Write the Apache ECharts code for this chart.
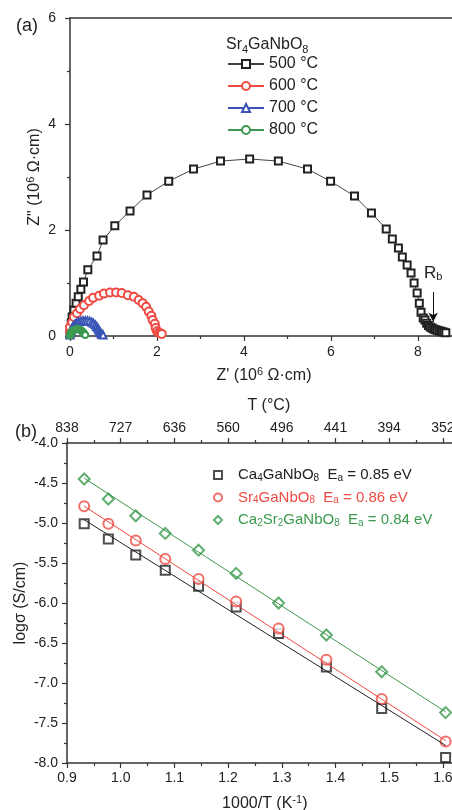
<!DOCTYPE html>
<html><head><meta charset="utf-8">
<script src="https://cdn.jsdelivr.net/npm/echarts@6/dist/echarts.min.js"></script>
<style>html,body{margin:0;padding:0;background:#fff}#c{width:452px;height:810px}</style>
</head><body><div id="c"></div>
<script>
// ---------- Panel (a): Nyquist plots of Sr4GaNbO8 ----------
const impedanceTemps = ['500 °C', '600 °C', '700 °C', '800 °C'];
const z500 = [[0.0,0.04],[0.01,0.13],[0.03,0.25],[0.05,0.36],[0.09,0.49],[0.14,0.62],[0.19,0.74],[0.25,0.88],[0.31,1.02],[0.41,1.25],[0.62,1.51],[0.76,1.81],[1.03,2.08],[1.38,2.36],[1.77,2.66],[2.27,2.92],[2.84,3.15],[3.46,3.30],[4.13,3.34],[4.79,3.30],[5.46,3.15],[5.99,2.92],[6.54,2.64],[6.93,2.32],[7.27,2.02],[7.41,1.83],[7.55,1.66],[7.64,1.49],[7.75,1.34],[7.84,1.19],[7.91,1.00],[7.98,0.81],[8.03,0.62],[8.07,0.45],[8.12,0.34],[8.16,0.30],[8.20,0.24],[8.24,0.20],[8.28,0.17],[8.32,0.15],[8.36,0.13],[8.40,0.12],[8.44,0.11],[8.48,0.10],[8.52,0.09],[8.56,0.08],[8.60,0.07],[8.64,0.06]];
const z600 = [[0.0,0.08],[0.0,0.17],[0.05,0.26],[0.09,0.36],[0.16,0.43],[0.23,0.51],[0.32,0.58],[0.44,0.66],[0.53,0.72],[0.67,0.76],[0.78,0.80],[0.92,0.82],[1.06,0.82],[1.19,0.81],[1.33,0.77],[1.47,0.74],[1.58,0.68],[1.67,0.62],[1.75,0.55],[1.81,0.46],[1.87,0.38],[1.90,0.30],[1.95,0.23],[1.97,0.15],[2.00,0.09],[2.04,0.06],[2.08,0.05],[2.11,0.04]];
const z700 = [[0.0,0.02],[0.01,0.06],[0.02,0.10],[0.04,0.14],[0.06,0.17],[0.09,0.20],[0.12,0.23],[0.16,0.25],[0.20,0.27],[0.25,0.28],[0.30,0.29],[0.35,0.29],[0.40,0.29],[0.45,0.28],[0.50,0.26],[0.54,0.24],[0.58,0.21],[0.61,0.18],[0.64,0.15],[0.66,0.12],[0.68,0.09],[0.70,0.06],[0.72,0.04],[0.74,0.03],[0.76,0.02]];
const z800 = [[0.0,0.01],[0.01,0.04],[0.03,0.07],[0.05,0.09],[0.08,0.11],[0.11,0.12],[0.15,0.13],[0.19,0.13],[0.23,0.12],[0.26,0.10],[0.29,0.08],[0.31,0.06],[0.33,0.04],[0.35,0.02]];
const rbArrow = [[8.35, 0.83], [8.35, 0.27]];

// ---------- Panel (b): Arrhenius plots ----------
const compounds = ['Ca4GaNbO8', 'Sr4GaNbO8', 'Ca2Sr2GaNbO8'];
const activationEnergies = ['0.85', '0.86', '0.84'];
const invT = [0.932, 0.977, 1.028, 1.083, 1.145, 1.215, 1.294, 1.383, 1.486, 1.605];
const sigmaCa4 = [-5.01, -5.20, -5.40, -5.59, -5.79, -6.05, -6.38, -6.80, -7.32, -7.93];
const sigmaSr4 = [-4.79, -5.01, -5.22, -5.45, -5.70, -5.98, -6.32, -6.71, -7.20, -7.73];
const sigmaCa2Sr2 = [-4.45, -4.70, -4.91, -5.13, -5.34, -5.63, -6.00, -6.40, -6.86, -7.37];
const fitCa4 = [[0.932, -4.96], [1.605, -7.78]];
const fitSr4 = [[0.932, -4.79], [1.605, -7.72]];
const fitCa2Sr2 = [[0.932, -4.44], [1.605, -7.36]];
const tTickLabels = ['838', '727', '636', '560', '496', '441', '394', '352'];

const FF = '"Liberation Sans", Arial, sans-serif';
const INK = '#222';
const AX = '#333';
const C_BLACK = '#222', C_RED = '#ee4b43', C_BLUE = '#3a55b6', C_GREEN = '#3b9a4e';
const subStyle = {fontSize: 11, lineHeight: 10, verticalAlign: 'bottom', fontFamily: FF};
const supStyle = {fontSize: 11, lineHeight: 10, verticalAlign: 'top', fontFamily: FF};

function baseAxis(extra) {
  return Object.assign({
    type: 'value',
    nameMoveOverlap: false,
    axisLine: {show: true, lineStyle: {color: AX, width: 1.5}},
    axisTick: {show: true, length: 5, lineStyle: {color: AX, width: 1.2}},
    minorTick: {show: true, splitNumber: 2, length: 3, lineStyle: {color: AX, width: 1.2}},
    splitLine: {show: false},
    axisLabel: {fontSize: 14, color: INK, fontFamily: FF},
    nameTextStyle: {fontSize: 16, color: INK, fontFamily: FF, lineHeight: 20, rich: {sup: supStyle, sub: subStyle}}
  }, extra);
}

const chart = echarts.init(document.getElementById('c'), null, {renderer: 'canvas'});
chart.setOption({
  animation: false,
  backgroundColor: '#fff',
  title: [
    {text: '(a)', left: 11, top: 12, textStyle: {fontSize: 18, fontWeight: 'normal', color: INK, fontFamily: FF}},
    {text: '(b)', left: 10, top: 418, textStyle: {fontSize: 18, fontWeight: 'normal', color: INK, fontFamily: FF}},
    {text: 'Sr{sub|4}GaNbO{sub|8}', left: 221, top: 30,
     textStyle: {fontSize: 16, lineHeight: 20, fontWeight: 'normal', color: INK, fontFamily: FF, rich: {sub: subStyle}}}
  ],
  legend: [
    {data: impedanceTemps, orient: 'vertical', left: 222, top: 51, itemWidth: 36, itemHeight: 10, itemGap: 6,
     textStyle: {fontSize: 16, lineHeight: 16, color: INK, fontFamily: FF}},
    {data: [
       {name: compounds[0], textStyle: {color: C_BLACK}},
       {name: compounds[1], textStyle: {color: C_RED}},
       {name: compounds[2], textStyle: {color: C_GREEN}}],
     orient: 'vertical', left: 208, top: 462, itemWidth: 8, itemHeight: 8, itemGap: 6.5,
     formatter: function (name) {
       const i = compounds.indexOf(name);
       const f = name.replace(/(\d)/g, '{sub|$1}');
       return f + '  E{sub|a} = ' + activationEnergies[i] + ' eV';
     },
     textStyle: {fontSize: 15, lineHeight: 16, padding: [0, 0, 0, 11], fontFamily: FF,
       rich: {sub: {fontSize: 10, lineHeight: 9, verticalAlign: 'bottom', fontFamily: FF}}}}
  ],
  grid: [
    {left: 70, top: 18, right: 452 - 70 - 435, bottom: 810 - 336, outerBoundsMode: 'none', containLabel: false},
    {left: 67, top: 443, right: 452 - 67 - 429.6, bottom: 810 - 763, outerBoundsMode: 'none', containLabel: false}
  ],
  xAxis: [
    baseAxis({gridIndex: 0, position: 'bottom', min: 0, max: 10, interval: 2,
      name: "Z' (10{sup|6} Ω·cm)", nameLocation: 'middle', nameGap: 30,
      axisLabel: {fontSize: 14, color: INK, fontFamily: FF, margin: 9},
      nameTextStyle: {fontSize: 16, color: INK, fontFamily: FF, lineHeight: 20, padding: [0, 47, 0, 0], rich: {sup: supStyle}}}),
    baseAxis({gridIndex: 0, position: 'top', min: 0, max: 10, interval: 2,
      axisTick: {show: false}, minorTick: {show: false}, axisLabel: {show: false}}),
    baseAxis({gridIndex: 1, position: 'bottom', min: 0.9, max: 1.7, interval: 0.1,
      name: '1000/T (K{sup|-1})', nameLocation: 'middle', nameGap: 31,
      axisLabel: {fontSize: 14, color: INK, fontFamily: FF, margin: 8, formatter: v => v.toFixed(1)},
      nameTextStyle: {fontSize: 16, color: INK, fontFamily: FF, lineHeight: 20, padding: [0, 34, 0, 0], rich: {sup: supStyle}}}),
    baseAxis({gridIndex: 1, position: 'top', min: 0.9, max: 1.7, interval: 0.1,
      name: 'T (°C)', nameLocation: 'middle', nameGap: 27,
      axisLabel: {fontSize: 14, color: INK, fontFamily: FF, margin: 8,
        formatter: v => { const i = Math.round((v - 0.9) * 10); return tTickLabels[i] || ''; }},
      nameTextStyle: {fontSize: 16, color: INK, fontFamily: FF, lineHeight: 20, padding: [0, 26, 0, 0]}})
  ],
  yAxis: [
    baseAxis({gridIndex: 0, min: 0, max: 6, interval: 2,
      name: 'Z" (10{sup|6} Ω·cm)', nameLocation: 'middle', nameGap: 25,
      axisLabel: {fontSize: 14, color: INK, fontFamily: FF, margin: 14}}),
    baseAxis({gridIndex: 1, min: -8, max: -4, interval: 0.5,
      name: 'logσ (S/cm)', nameLocation: 'middle', nameGap: 36,
      axisLabel: {fontSize: 14, color: INK, fontFamily: FF, margin: 9, formatter: v => v.toFixed(1)}})
  ],
  series: [
    {name: impedanceTemps[0], type: 'line', xAxisIndex: 0, yAxisIndex: 0, data: z500, clip: false,
     symbol: 'emptyRect', symbolSize: 7, lineStyle: {color: '#444', width: 1}, itemStyle: {color: C_BLACK, borderWidth: 1},
     markLine: {silent: true, symbol: ['none', 'arrow'], symbolSize: [7, 9],
       lineStyle: {color: '#111', width: 1, type: 'solid'},
       label: {show: true, position: 'start', distance: 10, formatter: 'R{sub|b}', fontSize: 17, color: INK, fontFamily: FF,
         rich: {sub: {fontSize: 11, lineHeight: 10, verticalAlign: 'bottom', fontFamily: FF}}},
       data: [[{coord: rbArrow[0]}, {coord: rbArrow[1]}]]}},
    {name: impedanceTemps[1], type: 'line', xAxisIndex: 0, yAxisIndex: 0, data: z600, clip: false,
     symbol: 'emptyCircle', symbolSize: 8, lineStyle: {color: C_RED, width: 1}, itemStyle: {color: C_RED, borderWidth: 1}},
    {name: impedanceTemps[2], type: 'line', xAxisIndex: 0, yAxisIndex: 0, data: z700, clip: false,
     symbol: 'emptyTriangle', symbolSize: 7, lineStyle: {color: C_BLUE, width: 1}, itemStyle: {color: C_BLUE, borderWidth: 1}},
    {name: impedanceTemps[3], type: 'line', xAxisIndex: 0, yAxisIndex: 0, data: z800, clip: false,
     symbol: 'emptyCircle', symbolSize: 6, lineStyle: {color: C_GREEN, width: 1}, itemStyle: {color: C_GREEN, borderWidth: 1}},

    {name: 'fit ' + compounds[0], type: 'line', xAxisIndex: 2, yAxisIndex: 1, data: fitCa4, symbol: 'none',
     lineStyle: {color: C_BLACK, width: 1}},
    {name: 'fit ' + compounds[1], type: 'line', xAxisIndex: 2, yAxisIndex: 1, data: fitSr4, symbol: 'none',
     lineStyle: {color: C_RED, width: 1}},
    {name: 'fit ' + compounds[2], type: 'line', xAxisIndex: 2, yAxisIndex: 1, data: fitCa2Sr2, symbol: 'none',
     lineStyle: {color: C_GREEN, width: 1}},
    {name: compounds[0], type: 'scatter', xAxisIndex: 2, yAxisIndex: 1, data: invT.map((x, i) => [x, sigmaCa4[i]]),
     symbol: 'emptyRect', symbolSize: 9, itemStyle: {color: C_BLACK, borderWidth: 1.2}},
    {name: compounds[1], type: 'scatter', xAxisIndex: 2, yAxisIndex: 1, data: invT.map((x, i) => [x, sigmaSr4[i]]),
     symbol: 'emptyCircle', symbolSize: 10, itemStyle: {color: C_RED, borderWidth: 1.2}},
    {name: compounds[2], type: 'scatter', xAxisIndex: 2, yAxisIndex: 1, data: invT.map((x, i) => [x, sigmaCa2Sr2[i]]),
     symbol: 'emptyDiamond', symbolSize: 11, itemStyle: {color: C_GREEN, borderWidth: 1.2}}
  ]
});
</script>
</body></html>
